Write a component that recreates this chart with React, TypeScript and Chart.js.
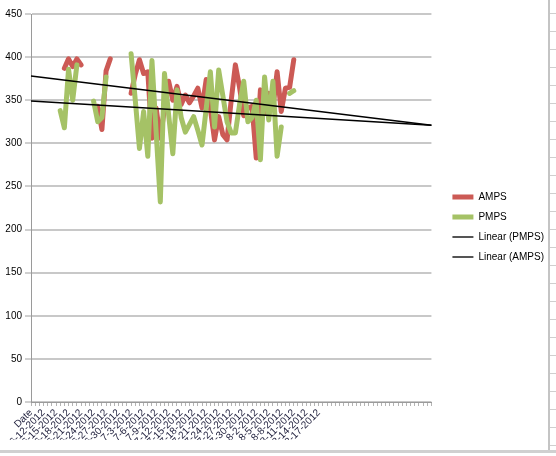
import { useEffect, useRef } from 'react';
import { Chart, registerables } from 'chart.js';

Chart.register(...registerables);

// Tick labels shown on the category axis (every third category)
const tickLabels = [
  'Date', '6-12-2012', '6-15-2012', '6-18-2012', '6-21-2012', '6-24-2012', '6-27-2012',
  '6-30-2012', '7-3-2012', '7-6-2012', '7-9-2012', '7-12-2012', '7-15-2012', '7-18-2012',
  '7-21-2012', '7-24-2012', '7-27-2012', '7-30-2012', '8-2-2012', '8-5-2012', '8-8-2012',
  '8-11-2012', '8-14-2012', '8-17-2012',
];
const categoryCount = 97;

// AMPS series (index = category position), null = no reading
const ampsValues = [
  null, null, null, null, null, null, null, null,
  387, 398, 389, 398, 391,
  null, null, null,
  343, 316, 384, 398,
  null, null, null, null,
  358, 380, 397, 381, 383, 306, 341, 306, 340, 372,
  350, 366, 345, 356, 347, 355, 364, 341, 374, 340,
  304, 331, 310, 304, 350, 391, 365, 332, 341, 343,
  283, 362, 335, 358, 341, 383, 337, 364, 365, 397,
];

// PMPS series
const pmpsValues = [
  null, null, null, null, null, null, null,
  338, 318, 386, 350, 391,
  null, null, null,
  349, 325, 330, 377,
  null, null, null, null, null,
  404, 350, 294, 337, 285, 396, 313, 232, 381, 333,
  288, 362, 330, 313, 322, 331, 315, 298, 340, 383,
  319, 385, 355, 325, 312, 312, 345, 372, 325, 330,
  350, 281, 377, 327, 372, 285, 319, null, 358, 361,
];

// Linear trendlines: value at first and last category
const trendAmps = [378, 321];
const trendPmps = [349, 321];

const FONT = "'Liberation Sans', Arial, sans-serif";
const RED = '#cc5a55';
const GREEN = '#a5c266';

export default function App() {
  const ref = useRef<HTMLCanvasElement>(null);

  useEffect(() => {
    const categories = Array.from({ length: categoryCount }, (_, i) =>
      i % 3 === 0 && i / 3 < tickLabels.length ? tickLabels[i / 3] : ''
    );
    const trendSeries = (ends: number[]) =>
      categories.map((_, i) => (i === 0 ? ends[0] : i === categoryCount - 1 ? ends[1] : null));

    const chart = new Chart(ref.current as HTMLCanvasElement, {
      type: 'line',
      data: {
        labels: categories,
        datasets: [
          {
            label: 'AMPS',
            data: ampsValues,
            borderColor: RED,
            backgroundColor: RED,
            borderWidth: 5,
            pointRadius: 0,
            spanGaps: false,
            borderJoinStyle: 'round',
            borderCapStyle: 'round',
            order: 3,
          },
          {
            label: 'PMPS',
            data: pmpsValues,
            borderColor: GREEN,
            backgroundColor: GREEN,
            borderWidth: 5,
            pointRadius: 0,
            spanGaps: false,
            borderJoinStyle: 'round',
            borderCapStyle: 'round',
            order: 2,
          },
          {
            label: 'Linear (PMPS)',
            data: trendSeries(trendPmps),
            borderColor: '#000',
            backgroundColor: '#000',
            borderWidth: 1.5,
            pointRadius: 0,
            spanGaps: true,
            order: 1,
          },
          {
            label: 'Linear (AMPS)',
            data: trendSeries(trendAmps),
            borderColor: '#000',
            backgroundColor: '#000',
            borderWidth: 1.5,
            pointRadius: 0,
            spanGaps: true,
            order: 1,
          },
        ],
      },
      options: {
        responsive: false,
        animation: false,
        devicePixelRatio: 1,
        layout: { padding: { top: 14, right: 2, bottom: 16, left: 0 } },
        plugins: {
          tooltip: { enabled: false },
          legend: {
            position: 'right',
            align: 'center',
            maxWidth: 300,
            labels: {
              usePointStyle: true,
              pointStyleWidth: 21,
              padding: 10,
              color: '#000',
              font: { family: FONT, size: 10 },
              generateLabels: (c: any) =>
                c.data.datasets.map((ds: any, i: number) => ({
                  text: ds.label,
                  datasetIndex: i,
                  fillStyle: i < 2 ? ds.borderColor : '#555',
                  strokeStyle: i < 2 ? ds.borderColor : '#555',
                  lineWidth: i < 2 ? 5 : 2,
                  pointStyle: 'line',
                  lineCap: 'butt',
                  hidden: false,
                  fontColor: '#000',
                })),
            },
          },
        },
        scales: {
          x: {
            type: 'category',
            offset: false,
            grid: {
              offset: false,
              drawOnChartArea: false,
              drawTicks: true,
              tickLength: 4,
              color: '#b4b4b4',
              lineWidth: 1,
            },
            border: { color: '#9a9a9a', width: 1 },
            ticks: {
              autoSkip: false,
              maxRotation: 45,
              minRotation: 45,
              padding: 1,
              color: '#1c1c3a',
              font: { family: FONT, size: 10 },
              callback: (_v: any, i: number) => (i % 3 === 0 ? categories[i] : ''),
            },
            afterFit: (s: any) => {
              s.height = 38;
            },
          },
          y: {
            min: 0,
            max: 450,
            ticks: {
              stepSize: 50,
              padding: 3,
              color: '#000',
              font: { family: FONT, size: 10 },
            },
            grid: {
              color: '#c8c8c8',
              lineWidth: 2,
              tickLength: 6,
              tickColor: '#a0a0a0',
              tickWidth: 1,
            },
            border: { color: '#9a9a9a', width: 1 },
            afterFit: (s: any) => {
              s.width = 31;
            },
          },
          y2: {
            type: 'linear',
            position: 'right',
            display: true,
            grid: { display: false },
            ticks: { display: false },
            border: { display: false },
            afterFit: (s: any) => {
              s.width = 11;
            },
          },
        },
      },
    } as any);

    return () => chart.destroy();
  }, []);

  return (
    <div
      style={{
        position: 'fixed',
        left: 0,
        top: 0,
        width: 556,
        height: 456,
        background: '#fff',
        overflow: 'hidden',
      }}
    >
      <canvas ref={ref} width={556} height={456} style={{ position: 'absolute', left: 0, top: 0 }} />
      <div
        style={{
          position: 'absolute',
          left: 548,
          top: 0,
          width: 2,
          height: 453,
          background: '#c4c4c4',
        }}
      />
      <div
        style={{
          position: 'absolute',
          left: 550,
          top: 0,
          width: 6,
          height: 450,
          backgroundImage:
            'repeating-linear-gradient(to bottom, transparent 0px, transparent 13px, #cfcfcf 13px, #cfcfcf 14px, transparent 14px, transparent 18px)',
        }}
      />
      <div
        style={{
          position: 'absolute',
          left: 0,
          top: 450,
          width: 556,
          height: 3,
          background: '#d0d0d0',
        }}
      />
    </div>
  );
}
